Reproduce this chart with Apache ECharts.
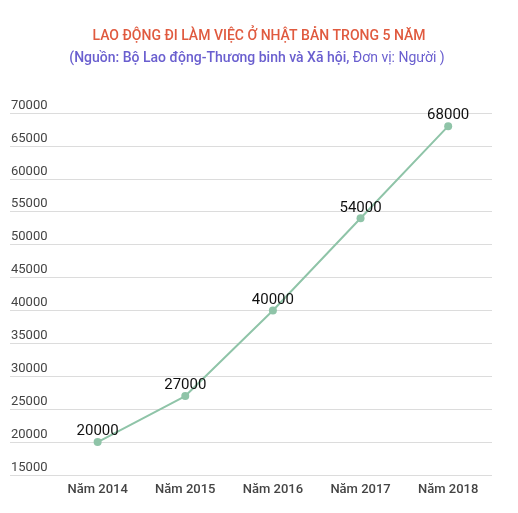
<!DOCTYPE html>
<html><head><meta charset="utf-8">
<script src="https://cdn.jsdelivr.net/npm/echarts@6/dist/echarts.min.js"></script>
<style>html,body{margin:0;padding:0;background:#fff}#c{width:518px;height:513px}</style>
</head><body><div id="c"></div>
<script>
const categories = ['Năm 2014', 'Năm 2015', 'Năm 2016', 'Năm 2017', 'Năm 2018'];
const workers = [20000, 27000, 40000, 54000, 68000];
const titleText = 'LAO ĐỘNG ĐI LÀM VIỆC Ở NHẬT BẢN TRONG 5 NĂM';
const subBold = '(Nguồn: Bộ Lao động-Thương binh và Xã hội,';
const subNormal = ' Đơn vị: Người )';

const chart = echarts.init(document.getElementById('c'));
chart.setOption({
  animation: false,
  textStyle: { fontFamily: 'Roboto' },
  title: [{
    text: titleText, left: 'center', top: 24,
    textStyle: { color: '#e05a3f', fontSize: 14, fontWeight: 500, fontFamily: 'Roboto' }
  }, {
    text: '{b|' + subBold + '}{n|' + subNormal + '}', left: 252, textAlign: 'center', top: 46,
    textStyle: { rich: {
      b: { color: '#6a5fcf', fontSize: 14, fontWeight: 500, fontFamily: 'Roboto' },
      n: { color: '#6a5fcf', fontSize: 14, fontWeight: 'normal', fontFamily: 'Roboto' }
    } }
  }],
  grid: { left: 10, right: 26, top: 113, bottom: 38, containLabel: false },
  xAxis: {
    type: 'value', min: -1, max: 4.5, interval: 1,
    axisLine: { show: false }, axisTick: { show: false }, splitLine: { show: false },
    axisLabel: {
      margin: 8, color: '#444', fontSize: 13, fontWeight: 500, fontFamily: 'Roboto',
      showMaxLabel: false, showMinLabel: false,
      formatter: v => (Number.isInteger(v) && v >= 0 && v < categories.length) ? categories[v] : ''
    }
  },
  yAxis: {
    type: 'value', min: 15000, max: 70000, interval: 5000,
    axisLine: { show: false }, axisTick: { show: false },
    splitLine: { lineStyle: { color: '#dcdcdc', width: 1 } },
    axisLabel: {
      inside: true, margin: 1, color: '#444', fontSize: 13, fontFamily: 'Roboto',
      verticalAlign: 'bottom', padding: [0, 0, 1, 0],
      formatter: v => String(v)
    }
  },
  series: [{
    type: 'line',
    data: workers.map((v, i) => [i, v]),
    symbol: 'circle', symbolSize: 8,
    lineStyle: { color: '#8fc4a8', width: 2 },
    itemStyle: { color: '#8fc4a8' },
    label: { show: true, position: 'top', distance: -1, color: '#111', fontSize: 15, fontFamily: 'Roboto',
      formatter: p => String(p.value[1]) }
  }]
});
</script></body></html>
